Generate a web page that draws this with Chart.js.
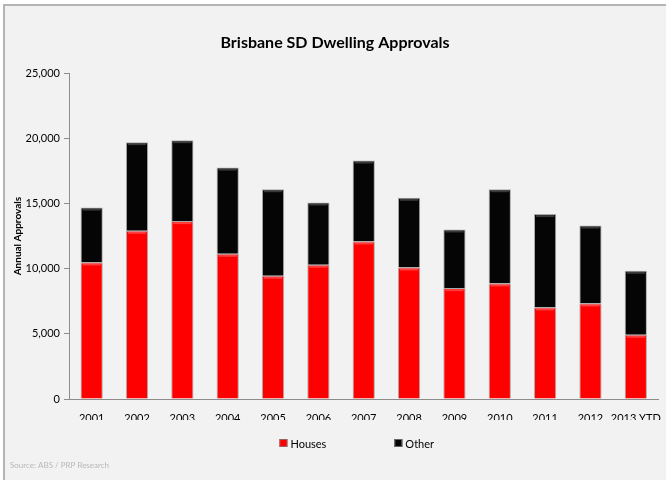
<!DOCTYPE html>
<html>
<head>
<meta charset="utf-8">
<script src="https://cdn.jsdelivr.net/npm/chart.js@4.4.0/dist/chart.umd.min.js"></script>
<style>
  html, body { margin: 0; padding: 0; background: #ffffff; }
  #frame {
    position: absolute; left: 3px; top: 4px; width: 700px; height: 520px;
    background: #f2f2f2; border: 2px solid #b4b4b4;
  }
  #wrap { position: absolute; left: 0; top: 0; width: 666px; height: 480px; }
</style>
</head>
<body>
<div id="frame"></div>
<div id="wrap"><canvas id="approvals" width="666" height="480"></canvas></div>
<script>
var years = ['2001', '2002', '2003', '2004', '2005', '2006', '2007', '2008', '2009', '2010', '2011', '2012', '2013 YTD'];
var houses = [10480, 12910, 13650, 11140, 9460, 10300, 12090, 10090, 8510, 8870, 7030, 7330, 4930];
var other = [4210, 6800, 6210, 6620, 6640, 4780, 6210, 5350, 4500, 7230, 7160, 5980, 4910];
var yTicks = [0, 5000, 10000, 15000, 20000, 25000];

var baseFont = 'Lato, "Open Sans", sans-serif';

// lighter strip along the top of every segment, gives the bevel look
var bevel = {
    id: 'bevel',
    afterDatasetsDraw: function (chart) {
        var ctx = chart.ctx;
        chart.data.datasets.forEach(function (ds, i) {
            var meta = chart.getDatasetMeta(i);
            meta.data.forEach(function (bar) {
                var w = bar.width;
                ctx.save();
                ctx.fillStyle = ds.highlight;
                ctx.fillRect(bar.x - w / 2 + 2, bar.y + 1, w - 4, 2);
                ctx.restore();
            });
        });
    }
};

// legend + source note along the bottom
var footer = {
    id: 'footer',
    afterDraw: function (chart) {
        var ctx = chart.ctx;
        var area = chart.chartArea;
        ctx.save();
        ctx.font = '11px ' + baseFont;
        ctx.textBaseline = 'middle';
        var gap = 68;
        var items = chart.data.datasets.map(function (ds) {
            return { label: ds.label, color: ds.backgroundColor, w: 11 + ctx.measureText(ds.label).width };
        });
        var total = items.reduce(function (s, it) { return s + it.w; }, 0) + gap * (items.length - 1);
        var x = (area.left + area.right) / 2 - 7 - total / 2;
        var y = 443;
        items.forEach(function (it) {
            ctx.fillStyle = it.color;
            ctx.fillRect(x, y - 4, 8, 8);
            ctx.strokeStyle = '#7a7a7a';
            ctx.lineWidth = 0.8;
            ctx.strokeRect(x + 0.5, y - 3.5, 7, 7);
            ctx.fillStyle = '#000000';
            ctx.textAlign = 'left';
            ctx.fillText(it.label, x + 11, y + 1);
            x += it.w + gap;
        });
        ctx.font = '8px ' + baseFont;
        ctx.fillStyle = '#b8b8b8';
        ctx.fillText('Source: ABS / PRP Research', 10, 465);
        ctx.restore();
    }
};

const ctx = document.getElementById('approvals');
var approvalsChart = new Chart(ctx, {
    type: 'bar',
    data: {
        labels: years,
        datasets: [{
            label: 'Houses',
            data: houses,
            backgroundColor: '#ff0000',
            highlight: 'rgba(255,90,90,0.7)',
            borderColor: 'rgba(120,120,120,0.6)',
            borderWidth: 1,
            barPercentage: 0.49,
            categoryPercentage: 1
        }, {
            label: 'Other',
            data: other,
            backgroundColor: '#050505',
            highlight: 'rgba(80,80,80,0.7)',
            borderColor: 'rgba(120,120,120,0.6)',
            borderWidth: 1,
            barPercentage: 0.49,
            categoryPercentage: 1
        }]
    },
    options: {
        responsive: false,
        animation: false,
        layout: { padding: { left: 8, right: 4, top: 0, bottom: 60 } },
        plugins: {
            legend: { display: false },
            tooltip: { enabled: false },
            title: {
                display: true,
                text: 'Brisbane SD Dwelling Approvals',
                color: '#000000',
                font: { family: baseFont, size: 16, weight: 'bold' },
                padding: { top: 33, bottom: 21 }
            }
        },
        scales: {
            x: {
                stacked: true,
                grid: { display: false },
                border: { display: true, color: '#8c8c8c', width: 1 },
                ticks: { color: '#000000', font: { family: baseFont, size: 11 }, padding: 5, maxRotation: 0, autoSkip: false },
                afterFit: function (scale) { scale.height = 21; }
            },
            y: {
                stacked: true,
                min: 0,
                max: 25000,
                afterBuildTicks: function (scale) {
                    scale.ticks = yTicks.map(function (v) { return { value: v }; });
                },
                grid: { drawOnChartArea: false, drawTicks: true, tickLength: 5, color: '#8c8c8c' },
                border: { display: true, color: '#8c8c8c', width: 1 },
                ticks: {
                    color: '#000000',
                    font: { family: baseFont, size: 11 },
                    padding: 4,
                    callback: function (v) { return v.toLocaleString('en-US'); }
                },
                title: {
                    display: true,
                    text: 'Annual Approvals',
                    color: '#000000',
                    font: { family: baseFont, size: 10, weight: 'bold' },
                    padding: { top: 4, bottom: 0 }
                },
                afterFit: function (scale) { scale.width = 61; }
            }
        }
    },
    plugins: [bevel, footer]
});
</script>
</body>
</html>
